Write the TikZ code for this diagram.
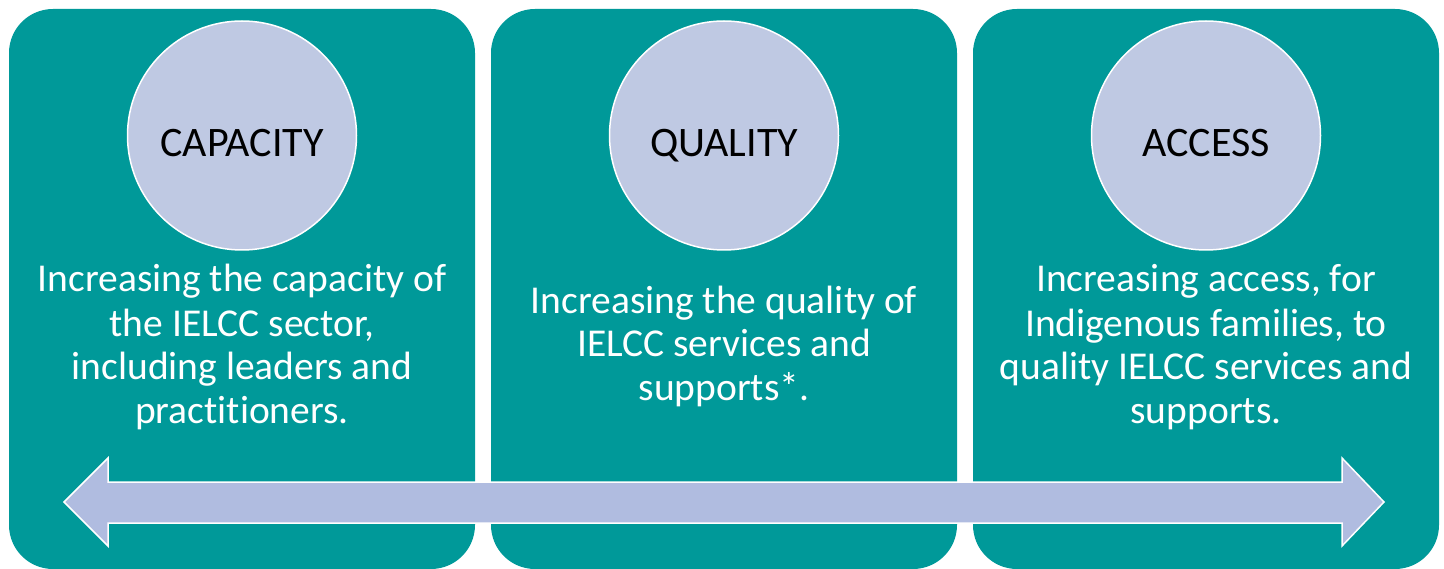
\documentclass[tikz,border=0pt]{standalone}
\usepackage{fontspec}
\setmainfont{Carlito}[Ligatures=CommonOff]
\usetikzlibrary{positioning}
\definecolor{tealbox}{RGB}{0,153,153}
\definecolor{discfill}{RGB}{191,201,227}
\definecolor{arrowfill}{RGB}{176,188,224}

\begin{document}
\begin{tikzpicture}[x=1pt,y=-1pt,node distance=16pt,
	panel/.style={fill=tealbox,rounded corners=44pt,minimum width=466pt,minimum height=560pt,inner sep=0pt,outer sep=0pt},
	disc/.style={circle,fill=discfill,draw=white,line width=1.5pt,minimum size=229pt,inner sep=0pt,font=\fontsize{42}{50}\selectfont,text height=43pt,text depth=0pt},
	body/.style={text=white,align=center,anchor=base,font=\fontsize{39.5}{44}\selectfont},
	arrowbody/.style={fill=arrowfill,draw=white,line width=1.5pt,line join=miter}]
	\useasboundingbox (0,0) rectangle (1444,569);
	
	\node[panel] (capbox) at (242,289) {};
	\node[panel, right=of capbox] (qualbox) {};
	\node[panel, right=of qualbox] (accbox) {};
	
	\node[disc] (cap) at (242,135.5) {CAPACITY};
	\node[disc] (qual) at (724,135.5) {QUALITY};
	\node[disc] (acc) at (1206,135.5) {ACCESS};
	
	\node[body] (captext) at (242,424) {Increasing the capacity of\\the IELCC sector,\\including leaders and\\practitioners.};
	\node[body] (qualtext) at (724,401) {Increasing the quality of\\IELCC services and\\supports*.};
	\node[body] (acctext) at (1206,424) {Increasing access, for\\Indigenous families, to\\quality IELCC services and\\supports.};
	
	% double arrow across the three panels
	\draw[arrowbody] (64,502) -- (108,458) -- (108,482) -- (1342,482) -- (1342,458) -- (1384,502)
		-- (1342,546) -- (1342,523) -- (108,523) -- (108,546) -- cycle;
\end{tikzpicture}
\end{document}
